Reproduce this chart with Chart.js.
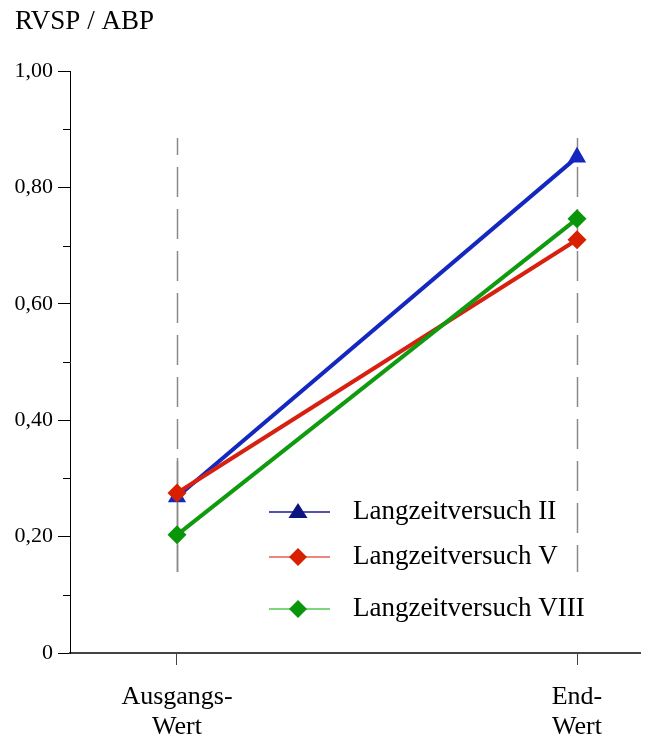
<!DOCTYPE html>
<html lang="de">
<head>
<meta charset="UTF-8">
<title>RVSP / ABP</title>
<script src="https://cdn.jsdelivr.net/npm/chart.js"></script>
<style>
body { margin:0; padding:0; background:#fff; }
#wrap { width:654px; height:742px; }
</style>
</head>
<body>
<div id="wrap"><canvas id="chart" width="654" height="742"></canvas></div>

<script>
// Daten
const categories = [['Ausgangs-', 'Wert'], ['End-', 'Wert']];
const categoryPos = [1, 2];
const seriesNames = ['Langzeitversuch II', 'Langzeitversuch V', 'Langzeitversuch VIII'];
const serieII = [0.268, 0.852];
const serieV = [0.275, 0.710];
const serieVIII = [0.203, 0.746];
const yTicks = [0, 0.2, 0.4, 0.6, 0.8, 1.0];

const lineColors = ['#1428c0', '#d82010', '#109a10'];
const legendLineColors = ['#1a1a90', '#e06050', '#50c850'];
const markerColors = ['#0a1480', '#d82000', '#0a960a'];
const serif = "'Liberation Serif', 'DejaVu Serif', serif";

const toPoints = vals => vals.map((v, i) => ({ x: categoryPos[i], y: v }));

// gestrichelte senkrechte Linien + kleine Ticks
const deko = {
  id: 'deko',
  beforeDatasetsDraw(chart) {
    const { ctx, scales: { x, y } } = chart;
    ctx.save();
    ctx.strokeStyle = '#8a8a8a';
    ctx.lineWidth = 1.5;
    categoryPos.forEach((c, i) => {
      const px = Math.round(x.getPixelForValue(c)) + 0.5;
      ctx.setLineDash([30, 12]);
      ctx.lineDashOffset = 13;
      ctx.beginPath();
      ctx.moveTo(px, y.getPixelForValue(0.885));
      ctx.lineTo(px, y.getPixelForValue(0.139));
      ctx.stroke();
      if (i === 0) {
        // links unten durchgehend
        ctx.setLineDash([]);
        ctx.beginPath();
        ctx.moveTo(px, y.getPixelForValue(0.335));
        ctx.lineTo(px, y.getPixelForValue(0.139));
        ctx.stroke();
      }
    });
    ctx.restore();
  },
  afterDraw(chart) {
    const { ctx, scales: { y }, chartArea } = chart;
    ctx.save();
    ctx.strokeStyle = '#000';
    ctx.lineWidth = 1;
    for (let v = 0.1; v < 1; v += 0.2) {
      const py = Math.round(y.getPixelForValue(v)) + 0.5;
      ctx.beginPath();
      ctx.moveTo(chartArea.left - 7, py);
      ctx.lineTo(chartArea.left, py);
      ctx.stroke();
    }
    // Legende
    const rows = [512, 557, 609];
    ctx.font = '27px ' + serif;
    ctx.textBaseline = 'middle';
    rows.forEach((ry, i) => {
      ctx.strokeStyle = legendLineColors[i];
      ctx.lineWidth = 1.5;
      ctx.beginPath();
      ctx.moveTo(269, ry);
      ctx.lineTo(330, ry);
      ctx.stroke();
      ctx.fillStyle = markerColors[i];
      ctx.beginPath();
      if (i === 0) {
        ctx.moveTo(298, ry - 9);
        ctx.lineTo(307.5, ry + 6);
        ctx.lineTo(288.5, ry + 6);
      } else {
        ctx.moveTo(298, ry - 9);
        ctx.lineTo(307, ry);
        ctx.lineTo(298, ry + 9);
        ctx.lineTo(289, ry);
      }
      ctx.closePath();
      ctx.fill();
      ctx.fillStyle = '#000';
      ctx.fillText(seriesNames[i], 353, ry);
    });
    ctx.restore();
  }
};

const mkSet = (i, vals, style, order) => ({
  label: seriesNames[i],
  data: toPoints(vals),
  borderColor: lineColors[i],
  backgroundColor: markerColors[i],
  borderWidth: 4,
  pointStyle: style,
  pointRadius: style === 'triangle' ? 10.5 : 9.5,
  pointBorderWidth: 0,
  pointBackgroundColor: style === 'triangle' ? lineColors[i] : markerColors[i],
  order: order
});

new Chart(document.getElementById('chart'), {
  type: 'line',
  data: {
    datasets: [
      mkSet(0, serieII, 'triangle', 3),
      mkSet(1, serieV, 'rectRot', 2),
      mkSet(2, serieVIII, 'rectRot', 1)
    ]
  },
  options: {
    responsive: false,
    animation: false,
    layout: { padding: { left: 15, right: 14, top: 4, bottom: 0 } },
    plugins: {
      legend: { display: false },
      tooltip: { enabled: false },
      title: {
        display: true,
        text: 'RVSP / ABP',
        align: 'start',
        color: '#000',
        font: { family: serif, size: 27, weight: 'normal' },
        padding: { top: 2, bottom: 32.6 }
      }
    },
    scales: {
      x: {
        type: 'linear',
        min: 0.7325,
        max: 2.1575,
        afterBuildTicks: s => { s.ticks = categoryPos.map(v => ({ value: v })); },
        afterFit: s => { s.height = 89; },
        border: { color: '#444', width: 2 },
        grid: { drawOnChartArea: false, tickLength: 12, tickColor: '#444' },
        ticks: {
          color: '#000',
          padding: 17,
          font: { family: serif, size: 26, lineHeight: 1.15 },
          callback: v => categories[categoryPos.indexOf(v)]
        }
      },
      y: {
        min: 0,
        max: 1,
        afterBuildTicks: s => { s.ticks = yTicks.map(v => ({ value: v })); },
        afterFit: s => { s.width = 55; },
        border: { color: '#000', width: 1 },
        grid: { drawOnChartArea: false, tickLength: 12, tickColor: '#000' },
        ticks: {
          color: '#000',
          padding: 5,
          font: { family: serif, size: 22 },
          callback: v => v === 0 ? '0' : v.toFixed(2).replace('.', ',')
        }
      }
    }
  },
  plugins: [deko]
});
</script>
</body>
</html>
